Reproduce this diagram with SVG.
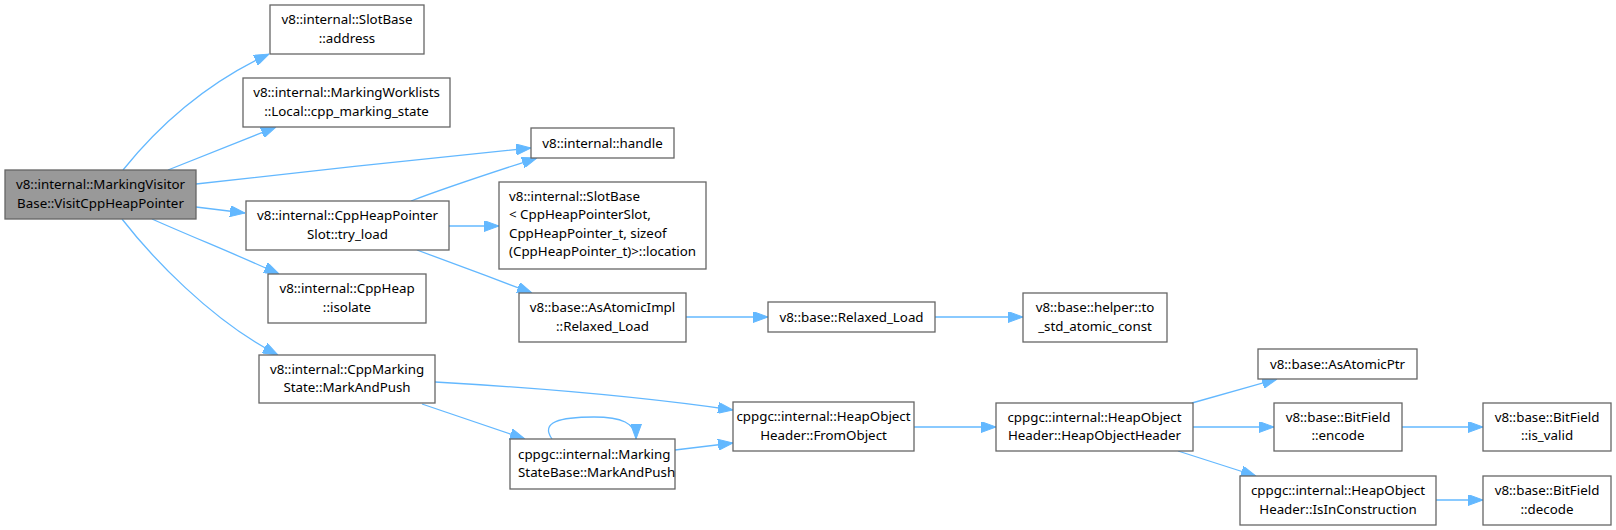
<svg xmlns="http://www.w3.org/2000/svg" width="1616" height="530" viewBox="0 0 1616 530">
<style>
.n rect{fill:#fff;stroke:#666;stroke-width:1.3}
.n.m rect{fill:#999}
.n text{font-family:"Noto Sans","DejaVu Sans",sans-serif;font-size:13.33px;fill:#000;text-anchor:middle}
.n text.l{text-anchor:start}
#edges path{fill:none;stroke:#63b8ff;stroke-width:1.3;marker-end:url(#ah)}
</style>
<defs>
<marker id="ah" markerUnits="userSpaceOnUse" viewBox="0 0 15 11" refX="15" refY="5.5" markerWidth="15" markerHeight="11" orient="auto">
<path d="M0,0 L15,5.5 L0,11 z" fill="#63b8ff" stroke="#63b8ff"/>
</marker>
</defs>
<rect width="1616" height="530" fill="#fff"/>
<g id="edges">
<path d="M123,170 C152,134 200,86 269,54"/>
<path d="M168,170 L276,127"/>
<path d="M196,184 C300,172 430,158 531,148"/>
<path d="M411,201 C450,186 500,170 537,158"/>
<path d="M196,207 L245,213"/>
<path d="M449,226 L499,226"/>
<path d="M417,250 C450,262 495,279 532,293"/>
<path d="M152,219 C190,236 240,256 279,274"/>
<path d="M122,219 C150,255 210,320 278,355"/>
<path d="M686,317 L768,317"/>
<path d="M935,317 L1023,317"/>
<path d="M435,382 C540,388 650,398 733,410"/>
<path d="M422,404 L525,439"/>
<path d="M552,439 C540,422 560,417 594,417 C621,417 636,423 636,439"/>
<path d="M675,450 L733,443"/>
<path d="M914,427 L996,427"/>
<path d="M1192,403 L1277,379"/>
<path d="M1193,427 L1274,427"/>
<path d="M1178,451 L1256,476"/>
<path d="M1402,427 L1483,427"/>
<path d="M1436,500 L1483,500"/>
</g>
<g id="n0" class="n m"><rect x="5" y="170" width="191" height="49"/><text x="100.5" y="189">v8::internal::MarkingVisitor</text><text x="100.5" y="207.5">Base::VisitCppHeapPointer</text></g>
<g id="n1" class="n"><rect x="270" y="5" width="154" height="49"/><text x="347" y="24">v8::internal::SlotBase</text><text x="347" y="42.5">::address</text></g>
<g id="n2" class="n"><rect x="243" y="78" width="207" height="49"/><text x="346.5" y="97">v8::internal::MarkingWorklists</text><text x="346.5" y="115.5">::Local::cpp_marking_state</text></g>
<g id="n3" class="n"><rect x="531" y="128" width="143" height="30"/><text x="602.5" y="148">v8::internal::handle</text></g>
<g id="n4" class="n"><rect x="246" y="201" width="203" height="49"/><text x="347.5" y="220">v8::internal::CppHeapPointer</text><text x="347.5" y="238.5">Slot::try_load</text></g>
<g id="n5" class="n"><rect x="499" y="182" width="207" height="87"/><text class="l" x="509" y="200.5">v8::internal::SlotBase</text><text class="l" x="509" y="219">&lt; CppHeapPointerSlot,</text><text class="l" x="509" y="237.5"> CppHeapPointer_t, sizeof</text><text class="l" x="509" y="256">(CppHeapPointer_t)&gt;::location</text></g>
<g id="n6" class="n"><rect x="268" y="274" width="158" height="49"/><text x="347" y="293">v8::internal::CppHeap</text><text x="347" y="311.5">::isolate</text></g>
<g id="n7" class="n"><rect x="519" y="293" width="167" height="49"/><text x="602.5" y="312">v8::base::AsAtomicImpl</text><text x="602.5" y="330.5">::Relaxed_Load</text></g>
<g id="n8" class="n"><rect x="768" y="302" width="167" height="30"/><text x="851.5" y="322">v8::base::Relaxed_Load</text></g>
<g id="n9" class="n"><rect x="1023" y="293" width="144" height="49"/><text x="1095" y="312">v8::base::helper::to</text><text x="1095" y="330.5">_std_atomic_const</text></g>
<g id="n10" class="n"><rect x="259" y="355" width="176" height="48"/><text x="347" y="373.5">v8::internal::CppMarking</text><text x="347" y="392">State::MarkAndPush</text></g>
<g id="n11" class="n"><rect x="733" y="402" width="181" height="49"/><text x="823.5" y="421">cppgc::internal::HeapObject</text><text x="823.5" y="439.5">Header::FromObject</text></g>
<g id="n12" class="n"><rect x="510" y="439" width="165" height="50"/><text class="l" x="518" y="458.5">cppgc::internal::Marking</text><text class="l" x="518" y="477">StateBase::MarkAndPush</text></g>
<g id="n13" class="n"><rect x="996" y="403" width="197" height="48"/><text x="1094.5" y="421.5">cppgc::internal::HeapObject</text><text x="1094.5" y="440">Header::HeapObjectHeader</text></g>
<g id="n14" class="n"><rect x="1258" y="349" width="159" height="30"/><text x="1337.5" y="369">v8::base::AsAtomicPtr</text></g>
<g id="n15" class="n"><rect x="1274" y="403" width="128" height="48"/><text x="1338" y="421.5">v8::base::BitField</text><text x="1338" y="440">::encode</text></g>
<g id="n16" class="n"><rect x="1483" y="403" width="128" height="48"/><text x="1547" y="421.5">v8::base::BitField</text><text x="1547" y="440">::is_valid</text></g>
<g id="n17" class="n"><rect x="1240" y="476" width="196" height="49"/><text x="1338" y="495">cppgc::internal::HeapObject</text><text x="1338" y="513.5">Header::IsInConstruction</text></g>
<g id="n18" class="n"><rect x="1483" y="476" width="128" height="49"/><text x="1547" y="495">v8::base::BitField</text><text x="1547" y="513.5">::decode</text></g>
</svg>
